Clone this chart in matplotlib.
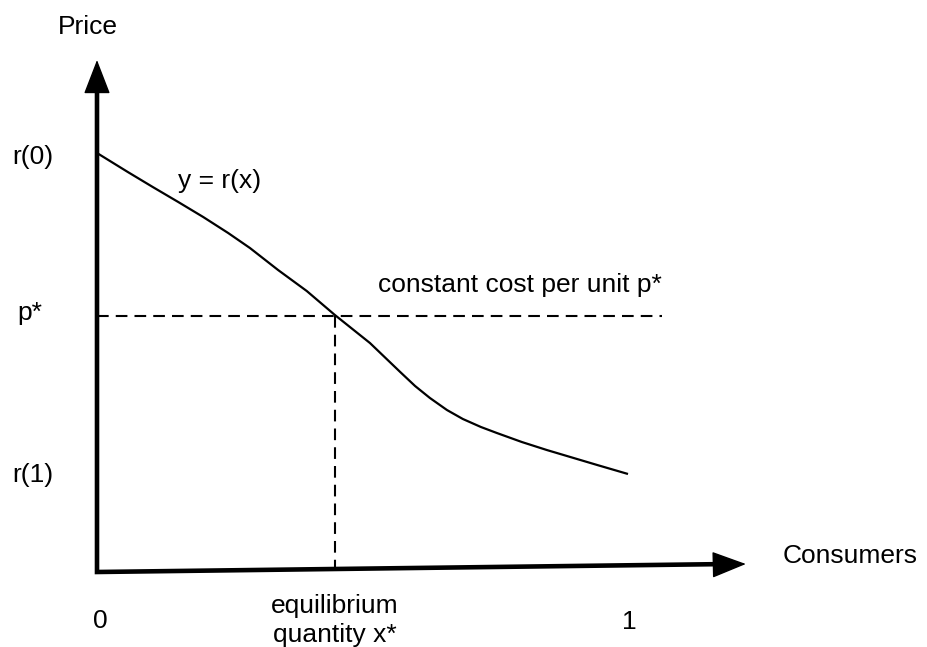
import matplotlib
matplotlib.use("Agg")
import matplotlib.pyplot as plt

# ---- data (x: share of consumers 0..1, y: price units) ----
consumers_x = [0.0, 0.058, 0.105, 0.153, 0.200, 0.247, 0.288, 0.341, 0.395,
               0.448, 0.514, 0.571, 0.599, 0.627, 0.659, 0.689, 0.723,
               0.753, 0.800, 0.847, 0.942, 1.0]
price_r = [4.17, 3.98, 3.83, 3.68, 3.53, 3.37, 3.22, 3.00, 2.79,
           2.55, 2.27, 1.98, 1.84, 1.72, 1.60, 1.51, 1.43,
           1.37, 1.28, 1.20, 1.05, 0.96]
x_star = 0.448
p_star = 2.54
cost_line_end = 1.064
x_axis_end = 1.222
x_axis_end_rise = 0.06
y_axis_top = 5.10

# ---- figure in pixel-like frame ----
W, H = 928, 647
fig = plt.figure(figsize=(W / 100, H / 100), dpi=100)
ax = fig.add_axes([0, 0, 1, 1])
X0, XS = 97, 531      # pixel of x=0, pixels per x unit
Y0, YS = 570, 100     # pixel of y=0, pixels per y unit
ax.set_xlim(-X0 / XS, (W - X0) / XS)
ax.set_ylim((Y0 - H) / YS, Y0 / YS)
ax.axis("off")

def px(xp):
    return (xp - X0) / XS

def py(yp):
    return (Y0 - yp) / YS

FONT = "Liberation Sans"
FS = 19

# axes shafts with mitered corner
ax.plot([0, 0, x_axis_end - 0.03], [y_axis_top - 0.2, -0.02, x_axis_end_rise],
        color="black", lw=3.3, solid_joinstyle="miter", solid_capstyle="butt",
        zorder=3)
# arrowheads
head = dict(arrowstyle="-|>,head_length=22,head_width=8.5", color="black",
            lw=1.0, mutation_scale=1, shrinkA=0, shrinkB=0)
ax.annotate("", xy=(0, y_axis_top), xytext=(0, y_axis_top - 0.5),
            arrowprops=head, zorder=4)
ax.annotate("", xy=(x_axis_end, x_axis_end_rise),
            xytext=(x_axis_end - 0.1, x_axis_end_rise - 0.012),
            arrowprops=head, zorder=4)

# demand curve
ax.plot(consumers_x, price_r, color="black", lw=1.6, solid_capstyle="butt",
        solid_joinstyle="round", zorder=2)

# dashed lines
dash = (0, (5.6, 3.4))
ax.plot([0, cost_line_end], [p_star, p_star], color="black", lw=1.5,
        linestyle=dash, zorder=1)
ax.plot([x_star, x_star], [p_star, 0], color="black", lw=1.5,
        linestyle=dash, zorder=1)

# labels
def label(xp, yp, s, ha="center"):
    ax.text(px(xp), py(yp), s, ha=ha, va="baseline", fontsize=FS,
            family=FONT, color="black")

label(88, 34, "Price")
label(12, 164, "r(0)", ha="left")
label(178, 188, "y = r(x)", ha="left")
label(378, 292, "constant cost per unit p*", ha="left")
label(17, 320, "p*", ha="left")
label(12, 482, "r(1)", ha="left")
label(100, 628, "0")
label(629, 629, "1")
label(335, 613, "equilibrium")
label(335, 642, "quantity x*")
label(783, 563, "Consumers", ha="left")

fig.savefig("out.png", dpi=100, facecolor="white")
